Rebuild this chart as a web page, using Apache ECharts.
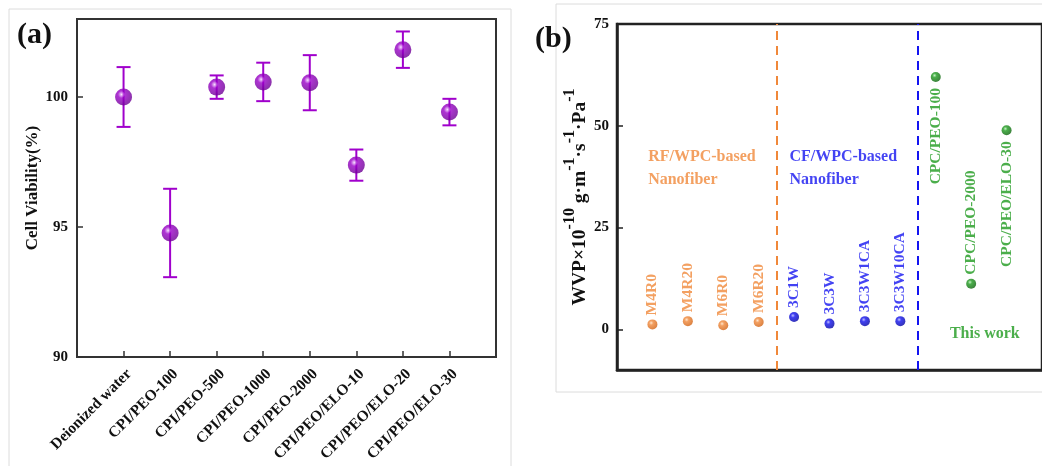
<!DOCTYPE html>
<html><head><meta charset="utf-8">
<script src="https://cdn.jsdelivr.net/npm/echarts@6/dist/echarts.min.js"></script>
<style>html,body{margin:0;padding:0;background:#fff}#c{width:1042px;height:466px}</style>
</head><body><div id="c"></div>
<script>
// ---------- Panel (a) data ----------
const catsA = ['Deionized water','CPI/PEO-100','CPI/PEO-500','CPI/PEO-1000','CPI/PEO-2000','CPI/PEO/ELO-10','CPI/PEO/ELO-20','CPI/PEO/ELO-30'];
const viability = [100.0, 94.77, 100.38, 100.58, 100.55, 97.38, 101.82, 99.42];
const viabilityErr = [1.15, 1.7, 0.45, 0.74, 1.06, 0.6, 0.7, 0.51];
const ticksA = [90, 95, 100];

// ---------- Panel (b) data ----------
const rfNames = ['M4R0','M4R20','M6R0','M6R20'];
const rfWVP = [1.2, 2.0, 1.0, 1.8];
const cfNames = ['3C1W','3C3W','3C3W1CA','3C3W10CA'];
const cfWVP = [3.0, 1.4, 2.0, 2.0];
const thisNames = ['CPC/PEO-100','CPC/PEO-2000','CPC/PEO/ELO-30'];
const thisWVP = [62.0, 11.2, 48.9];
const ticksB = [0, 25, 50, 75];
const groupTitles = ['RF/WPC-based\nNanofiber', 'CF/WPC-based\nNanofiber', 'This work'];

const FONT = '"Liberation Serif","Times New Roman",serif';
const C_PURPLE = '#a000cc', C_OR = '#f0883a', C_BL = '#1414f0', C_GR = '#1e9a1e';

function sphere(base, light, dark){
  return {type:'radial', x:0.38, y:0.35, r:0.7,
    colorStops:[{offset:0,color:light},{offset:0.3,color:base},{offset:1,color:dark}]};
}

const chart = echarts.init(document.getElementById('c'), null, {renderer:'canvas'});

// slot positions (index along x) for panel b
const nRF = rfNames.length, nCF = cfNames.length, nTW = thisNames.length;
const xMaxB = nRF + nCF + nTW + 1;
const dividers = [nRF + 0.5, nRF + nCF + 0.5];

function groupSeries(names, vals, start, base, light, dark, textColor, labelPos){
  return {
    type:'scatter', xAxisIndex:1, yAxisIndex:1, symbol:'circle', symbolSize:10,
    itemStyle:{color:sphere(base, light, dark)},
    data: names.map((n,i)=>{
      const pos = labelPos ? labelPos[i] : 'top';
      return {name:n, value:[start+i, vals[i]],
        label:{show:true, formatter:n, position:pos, rotate:90,
          align: pos==='top' ? 'left' : 'right', verticalAlign:'middle',
          distance: pos==='top' ? 4 : 6,
          color:textColor, fontFamily:FONT, fontWeight:'bold', fontSize:15.5}};
    }),
    z:3
  };
}

const option = {
  animation:false,
  backgroundColor:'#fff',
  textStyle:{fontFamily:FONT},
  grid:[
    {left:77, top:19, width:419, height:338, show:true, borderColor:'#333', borderWidth:2, backgroundColor:'transparent'},
    {left:617, top:24, right:-3, bottom:96, show:true, borderColor:'#222', borderWidth:2.5, backgroundColor:'transparent'}
  ],
  xAxis:[
    {gridIndex:0, type:'value', min:0, max:catsA.length+1, interval:1,
      axisLine:{show:true, onZero:false, lineStyle:{color:'#333', width:2}},
      axisTick:{show:true, inside:true, length:6, lineStyle:{color:'#333', width:1.5},
        customValues: catsA.map((c,i)=>i+1)},
      axisLabel:{show:true, rotate:45, margin:9, verticalAlign:'top', fontFamily:FONT, fontWeight:'bold', fontSize:15.5, color:'#111',
        customValues: catsA.map((c,i)=>i+1),
        formatter:(v)=>catsA[Math.round(v)-1] || ''},
      splitLine:{show:false}},
    {gridIndex:1, type:'value', min:0, max:xMaxB,
      axisLine:{show:true, onZero:false, lineStyle:{color:'#222', width:2.5}},
      axisTick:{show:false}, axisLabel:{show:false}, splitLine:{show:false}}
  ],
  yAxis:[
    {gridIndex:0, type:'value', min:90, max:103,
      name:'Cell Viability(%)', nameLocation:'middle', nameGap:36, nameRotate:90,
      nameTextStyle:{fontFamily:FONT, fontWeight:'bold', fontSize:17, color:'#111'},
      axisLine:{show:true, onZero:false, lineStyle:{color:'#333', width:2}},
      axisTick:{show:true, inside:true, length:6, lineStyle:{color:'#333', width:1.5}, customValues:ticksA},
      axisLabel:{show:true, margin:9, fontFamily:FONT, fontWeight:'bold', fontSize:15, color:'#111', customValues:ticksA},
      splitLine:{show:false}},
    {gridIndex:1, type:'value', min:-10, max:75,
      name:'{m|WVP×10}{s|-10}{m| g·m}{s|-1}{m|·s}{s|-1}{m|·Pa}{s|-1}',
      nameLocation:'middle', nameGap:25, nameRotate:90,
      nameTextStyle:{rich:{
        m:{fontFamily:FONT, fontWeight:'bold', fontSize:19.5, color:'#111', lineHeight:28, verticalAlign:'bottom'},
        s:{fontFamily:FONT, fontWeight:'bold', fontSize:16, color:'#111', lineHeight:17, verticalAlign:'top'}}},
      axisLine:{show:true, onZero:false, lineStyle:{color:'#222', width:2.5}},
      axisTick:{show:true, inside:true, length:6, lineStyle:{color:'#222', width:1.5}, customValues:ticksB},
      axisLabel:{show:true, margin:8, fontFamily:FONT, fontWeight:'bold', fontSize:15, color:'#111', customValues:ticksB},
      splitLine:{show:false}}
  ],
  series:[
    {type:'custom', xAxisIndex:0, yAxisIndex:0, z:2,
      data: catsA.map((c,i)=>[i+1, viability[i]-viabilityErr[i], viability[i]+viabilityErr[i]]),
      renderItem(params, api){
        const x = api.value(0);
        const lo = api.coord([x, api.value(1)]);
        const hi = api.coord([x, api.value(2)]);
        const cap = 7;
        const style = {stroke:C_PURPLE, lineWidth:2, fill:null};
        return {type:'group', children:[
          {type:'line', shape:{x1:lo[0],y1:lo[1],x2:hi[0],y2:hi[1]}, style},
          {type:'line', shape:{x1:lo[0]-cap,y1:lo[1],x2:lo[0]+cap,y2:lo[1]}, style},
          {type:'line', shape:{x1:hi[0]-cap,y1:hi[1],x2:hi[0]+cap,y2:hi[1]}, style}]};
      }},
    {type:'scatter', xAxisIndex:0, yAxisIndex:0, z:3, symbol:'circle', symbolSize:17,
      itemStyle:{color:sphere('#9a00c8','#f4d8ff','#6a0090')},
      data: catsA.map((c,i)=>[i+1, viability[i]])},
    Object.assign(groupSeries(rfNames, rfWVP, 1, C_OR, '#ffe0c0', '#d06010', C_OR, null), {
      markLine:{silent:true, symbol:'none', label:{show:false},
        lineStyle:{color:C_OR, type:[9,6], width:2}, data:[{xAxis:dividers[0]}]}}),
    Object.assign(groupSeries(cfNames, cfWVP, nRF+1, '#1010ee', '#b0b0ff', '#0000a0', C_BL, null), {
      markLine:{silent:true, symbol:'none', label:{show:false},
        lineStyle:{color:C_BL, type:[9,6], width:2}, data:[{xAxis:dividers[1]}]}}),
    groupSeries(thisNames, thisWVP, nRF+nCF+1, '#1e9a1e', '#b8f0b8', '#0a600a', C_GR, ['bottom','top','bottom']),
    {type:'scatter', xAxisIndex:1, yAxisIndex:1, symbolSize:0, z:4, silent:true,
      data:[
        {value:[0.88, 39.6], label:{formatter:groupTitles[0], color:C_OR}},
        {value:[4.87, 39.6], label:{formatter:groupTitles[1], color:C_BL}},
        {value:[9.4, -1.0], label:{formatter:groupTitles[2], color:C_GR}}
      ],
      label:{show:true, position:[0,0], align:'left', verticalAlign:'middle',
        fontFamily:FONT, fontWeight:'bold', fontSize:16, lineHeight:23}}
  ],
  graphic:[
    {type:'rect', shape:{x:9, y:9, width:502, height:470}, style:{fill:null, stroke:'#dcdcdc', lineWidth:1}, z:-10},
    {type:'rect', shape:{x:556, y:4, width:500, height:388}, style:{fill:null, stroke:'#dcdcdc', lineWidth:1}, z:-10},
    {type:'text', left:17, top:20, style:{text:'(a)', font:'bold 30px '+FONT, fill:'#111'}, z:10},
    {type:'text', left:535, top:24, style:{text:'(b)', font:'bold 30px '+FONT, fill:'#111'}, z:10}
  ]
};
chart.setOption(option);
</script></body></html>
